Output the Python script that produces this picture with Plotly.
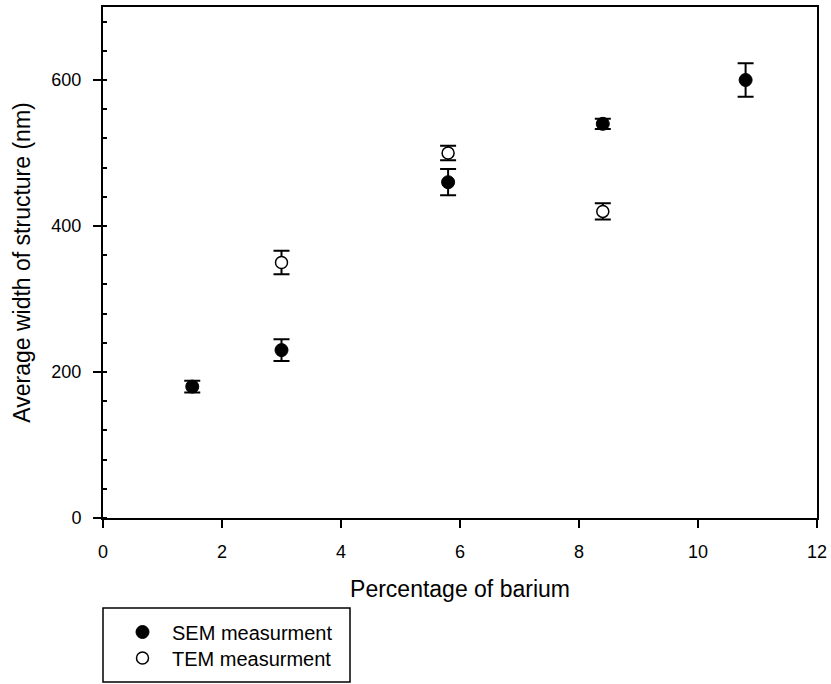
import plotly.graph_objects as go

sem_x = [1.5, 3.0, 5.8, 8.4, 10.8]
sem_y = [180, 230, 460, 540, 600]
sem_err = [8, 15, 18, 7, 23]

tem_x = [3.0, 5.8, 8.4]
tem_y = [350, 500, 420]
tem_err = [16, 10, 11]

FONT = "Liberation Sans, Arial, sans-serif"

# plot area geometry (px) used to place the legend box in paper coordinates
L, R, T, B = 103, 14, 7, 166
W, H = 831, 684
PW, PH = W - L - R, H - T - B

def px_to_paper_y(py):
    return (H - B - py) / PH

def px_to_paper_x(px):
    return (px - L) / PW

fig = go.Figure()
fig.add_trace(go.Scatter(
    x=sem_x, y=sem_y, mode="markers", name="SEM measurment", legend="legend",
    marker=dict(symbol="circle", size=13, color="black", line=dict(color="black", width=1)),
    error_y=dict(type="data", array=sem_err, visible=True, color="black", thickness=2, width=8),
))
fig.add_trace(go.Scatter(
    x=tem_x, y=tem_y, mode="markers", name="TEM measurment", legend="legend2",
    marker=dict(symbol="circle", size=12, color="white", line=dict(color="black", width=1.5)),
    error_y=dict(type="data", array=tem_err, visible=True, color="black", thickness=2, width=8),
))

fig.add_shape(
    type="rect", xref="paper", yref="paper",
    x0=px_to_paper_x(103), x1=px_to_paper_x(350),
    y0=px_to_paper_y(682), y1=px_to_paper_y(608),
    line=dict(color="black", width=1.5), fillcolor="rgba(0,0,0,0)",
)

legend_common = dict(
    x=0, xanchor="left", yanchor="middle",
    borderwidth=0, bgcolor="rgba(0,0,0,0)",
    font=dict(family=FONT, size=20, color="black"),
    itemwidth=49, indentation=10,
)

fig.update_layout(
    width=W, height=H,
    margin=dict(l=L, r=R, t=T, b=B, autoexpand=False),
    paper_bgcolor="white", plot_bgcolor="white",
    font=dict(family=FONT, size=18, color="black"),
    showlegend=True,
    legend=dict(y=px_to_paper_y(632), **legend_common),
    legend2=dict(y=px_to_paper_y(658), **legend_common),
    xaxis=dict(
        range=[0, 12], tickvals=[0, 2, 4, 6, 8, 10, 12],
        showline=True, linecolor="black", linewidth=2, mirror=True,
        ticks="outside", ticklen=8, tickwidth=2, tickcolor="black",
        ticklabelstandoff=8,
        showgrid=False, zeroline=False,
        title=dict(text="Percentage of barium", font=dict(size=23), standoff=20),
        tickfont=dict(size=18),
    ),
    yaxis=dict(
        range=[0, 700], tickvals=[0, 200, 400, 600],
        showline=True, linecolor="black", linewidth=2, mirror=True,
        ticks="outside", ticklen=8, tickwidth=2, tickcolor="black",
        ticklabelstandoff=8,
        showgrid=False, zeroline=False,
        minor=dict(dtick=40, ticks="inside", ticklen=4, tickwidth=2, tickcolor="black", showgrid=False),
        title=dict(text="Average width of structure (nm)", font=dict(size=23), standoff=14),
        tickfont=dict(size=18),
    ),
)

fig.write_html("out.html")
